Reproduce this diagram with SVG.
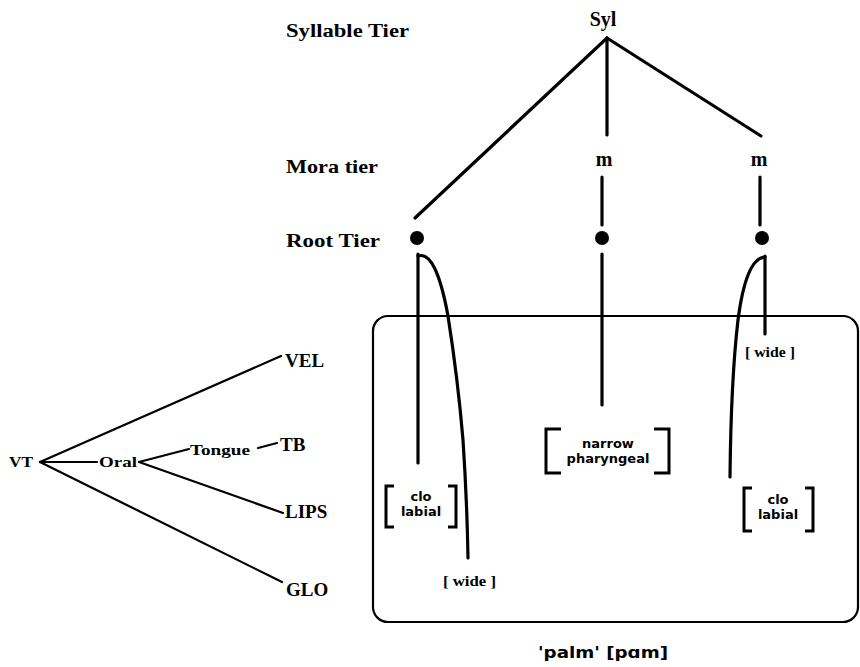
<svg xmlns="http://www.w3.org/2000/svg" width="860" height="667" viewBox="0 0 860 667">
<style>
.tier{font-family:"Liberation Serif","Times New Roman",serif;font-weight:bold;font-size:19px;fill:#000}
.node{font-family:"Liberation Serif","Times New Roman",serif;font-weight:bold;font-size:20px;fill:#000;text-anchor:middle}
.small{font-family:"Liberation Serif","Times New Roman",serif;font-weight:bold;font-size:15px;fill:#000}
.feat{font-family:"DejaVu Sans","Liberation Sans",sans-serif;font-weight:bold;font-size:13px;fill:#000;text-anchor:middle}
.ln{stroke:#000;stroke-width:3.2;fill:none;stroke-linecap:round}
.tn{stroke:#000;stroke-width:2.2;fill:none;stroke-linecap:round}
.br{stroke:#000;stroke-width:3;fill:none}
.cap{font-family:"DejaVu Sans","Liberation Sans",sans-serif;font-weight:bold;font-size:16px;fill:#000}
</style>
<rect width="860" height="667" fill="#fff"/>

<g id="tier-labels">
<text class="tier" x="286" y="37" textLength="123" lengthAdjust="spacingAndGlyphs">Syllable Tier</text>
<text class="tier" x="286" y="173" textLength="92" lengthAdjust="spacingAndGlyphs">Mora tier</text>
<text class="tier" x="286" y="247" textLength="94" lengthAdjust="spacingAndGlyphs">Root Tier</text>
</g>

<g id="box"><rect x="373" y="316" width="485" height="306" rx="15" ry="15" fill="none" stroke="#000" stroke-width="2.2"/></g>

<g id="connectors">
<line class="ln" x1="607" y1="38" x2="415" y2="218"/>
<line class="ln" x1="607" y1="38" x2="607" y2="135"/>
<line class="ln" x1="607" y1="38" x2="761" y2="136"/>
<line class="ln" x1="602" y1="177" x2="602" y2="225"/>
<line class="ln" x1="760" y1="177" x2="760" y2="225"/>
<line class="ln" x1="418" y1="254" x2="418" y2="463"/>
<path class="ln" d="M418,256 Q436,250 448,316 Q458,380 463,440 Q467,500 468,558"/>
<line class="ln" x1="602" y1="254" x2="602" y2="405"/>
<line class="ln" x1="765" y1="256" x2="765" y2="334"/>
<path class="ln" d="M765,257 Q746,258 738,320 Q731,380 730,477"/>
<line class="tn" x1="40" y1="462" x2="281" y2="356"/>
<line class="tn" x1="40" y1="462" x2="97" y2="462"/>
<line class="tn" x1="40" y1="462" x2="282" y2="582"/>
<line class="tn" x1="139" y1="462" x2="189" y2="449"/>
<line class="tn" x1="139" y1="462" x2="283" y2="513"/>
<line class="tn" x1="258" y1="448" x2="277" y2="443"/>
</g>

<g id="syl"><text class="node" x="603" y="26">Syl</text></g>
<g id="mora1"><text class="node" x="604" y="166">m</text></g>
<g id="mora2"><text class="node" x="759" y="166">m</text></g>
<g id="root1"><circle cx="417" cy="238" r="7"/></g>
<g id="root2"><circle cx="602" cy="238" r="7"/></g>
<g id="root3"><circle cx="762" cy="238" r="7"/></g>

<g id="vt"><text class="small" x="9" y="467" textLength="24" lengthAdjust="spacingAndGlyphs">VT</text></g>
<g id="oral"><text class="small" x="99" y="467" textLength="38" lengthAdjust="spacingAndGlyphs">Oral</text></g>
<g id="tongue"><text class="small" x="190" y="455" textLength="60" lengthAdjust="spacingAndGlyphs">Tongue</text></g>
<g id="vel"><text class="tier" x="285" y="367">VEL</text></g>
<g id="tb"><text class="tier" x="280" y="451">TB</text></g>
<g id="lips"><text class="tier" x="285" y="518">LIPS</text></g>
<g id="glo"><text class="tier" x="286" y="596">GLO</text></g>

<g id="wide-right"><text class="small" x="745" y="357" textLength="50" lengthAdjust="spacingAndGlyphs">[ wide ]</text></g>
<g id="wide-left"><text class="small" x="443" y="586" textLength="53" lengthAdjust="spacingAndGlyphs">[ wide ]</text></g>

<g id="clo-left">
<path class="br" d="M394,486 L386,486 L386,527 L394,527"/>
<path class="br" d="M448,486 L456,486 L456,527 L448,527"/>
<text class="feat" x="421" y="501">clo</text>
<text class="feat" x="421" y="516">labial</text>
</g>
<g id="clo-right">
<path class="br" d="M752,488 L744,488 L744,531 L752,531"/>
<path class="br" d="M805,488 L813,488 L813,531 L805,531"/>
<text class="feat" x="778" y="504">clo</text>
<text class="feat" x="778" y="519">labial</text>
</g>
<g id="narrow">
<path class="br" d="M561,429 L546,429 L546,473 L561,473"/>
<path class="br" d="M654,429 L669,429 L669,473 L654,473"/>
<text class="feat" x="608" y="448">narrow</text>
<text class="feat" x="608" y="463">pharyngeal</text>
</g>

<g id="caption"><text class="cap" x="538" y="658" textLength="130" lengthAdjust="spacingAndGlyphs">'palm'  [pɑm]</text></g>
</svg>
